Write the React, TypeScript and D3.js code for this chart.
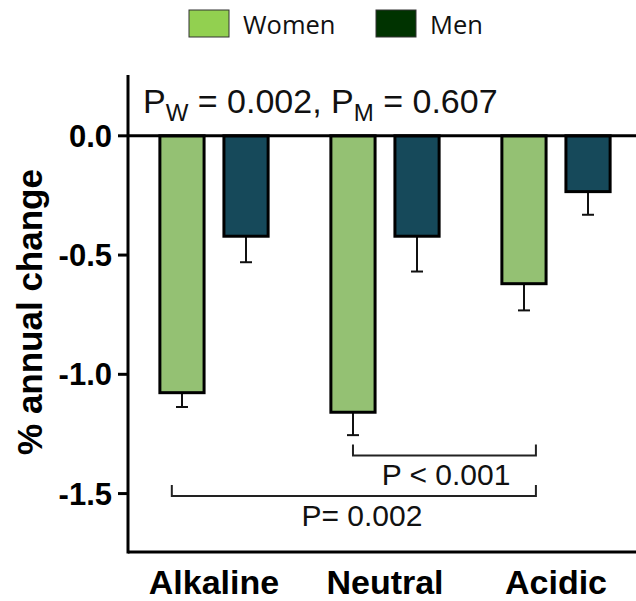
import { useMemo } from 'react'
import * as d3 from 'd3'

const categories = ['Alkaline', 'Neutral', 'Acidic']
const groups = ['Women', 'Men']
const womenMeans = [-1.077, -1.159, -0.62]
const womenErrors = [0.06, 0.096, 0.112]
const menMeans = [-0.421, -0.421, -0.234]
const menErrors = [0.109, 0.148, 0.097]
const yTicks = [0, -0.5, -1.0, -1.5]
const brackets = [
  { from: 'Neutral', to: 'Acidic', level: -1.34, label: 'P < 0.001' },
  { from: 'Alkaline', to: 'Acidic', level: -1.51, label: 'P= 0.002' },
]

const colors: Record<string, string> = { Women: '#94c173', Men: '#16495a' }
const legendColors: Record<string, string> = { Women: '#92d050', Men: '#003300' }
// where a bracket leg meets each women bar, as a share of the bar width
const legShare: Record<string, number> = { Alkaline: 0.27, Neutral: 0.5, Acidic: 0.77 }

const W = 636
const H = 601
const axisX = 128
const arial = 'Arial, "Liberation Sans", Helvetica, sans-serif'

export default function App() {
  const x0 = useMemo(
    () => d3.scaleBand<string>().domain(categories).range([128.5, 641.5]).padding(0),
    [],
  )
  const x1 = useMemo(
    () =>
      d3
        .scaleBand<string>()
        .domain(groups)
        .range([0, x0.bandwidth()])
        .paddingInner(0.31)
        .paddingOuter(0.49),
    [x0],
  )
  const y = useMemo(() => d3.scaleLinear().domain([0.255, -1.745]).range([75, 552]), [])

  const series = groups.map((g) => ({
    key: g,
    means: g === 'Women' ? womenMeans : menMeans,
    errors: g === 'Women' ? womenErrors : menErrors,
  }))

  const bw = x1.bandwidth()

  return (
    <svg
      width={W}
      height={H}
      style={{ position: 'fixed', left: 0, top: 0, background: '#fff' }}
    >
      {/* legend */}
      {groups.map((g, i) => {
        const lx = i === 0 ? 189 : 376
        return (
          <g key={g}>
            <rect
              x={lx}
              y={10}
              width={40}
              height={27}
              fill={legendColors[g]}
              stroke="#333"
              strokeWidth={1}
            />
            <text
              x={lx + 54}
              y={34}
              fontFamily='"Open Sans", "Noto Sans", sans-serif'
              fontSize={25.5}
              fill="#111"
            >
              {g}
            </text>
          </g>
        )
      })}

      {/* p-value header */}
      <text x={143} y={113} fontFamily={arial} fontSize={34} fill="#111">
        P<tspan fontSize={24} dy={8}>W</tspan>
        <tspan dy={-8}> = 0.002, P</tspan>
        <tspan fontSize={24} dy={8}>M</tspan>
        <tspan dy={-8}> = 0.607</tspan>
      </text>

      {/* bars */}
      {series.map((s) =>
        categories.map((c, i) => {
          const bx = (x0(c) ?? 0) + (x1(s.key) ?? 0)
          const top = y(0)
          const bottom = y(s.means[i])
          const cx = bx + bw / 2
          const errY = y(s.means[i] - s.errors[i])
          return (
            <g key={s.key + c}>
              <line x1={cx} x2={cx} y1={bottom} y2={errY} stroke="#111" strokeWidth={2} />
              <line x1={cx - 6} x2={cx + 6} y1={errY} y2={errY} stroke="#111" strokeWidth={2} />
              <rect
                x={bx}
                y={top}
                width={bw}
                height={bottom - top}
                fill={colors[s.key]}
                stroke="#000"
                strokeWidth={3}
              />
            </g>
          )
        }),
      )}

      {/* zero line and axes */}
      <line x1={axisX} x2={W} y1={y(0)} y2={y(0)} stroke="#000" strokeWidth={3} />
      <line x1={axisX} x2={W} y1={552} y2={552} stroke="#000" strokeWidth={3} />
      <line x1={axisX} x2={axisX} y1={75} y2={553.5} stroke="#000" strokeWidth={3} />
      {yTicks.map((t) => (
        <g key={t}>
          <line x1={axisX - 10} x2={axisX} y1={y(t)} y2={y(t)} stroke="#000" strokeWidth={3} />
          <text
            x={112}
            y={y(t)}
            dy="0.36em"
            textAnchor="end"
            fontFamily={arial}
            fontWeight="bold"
            fontSize={31}
            fill="#000"
          >
            {t.toFixed(1)}
          </text>
        </g>
      ))}
      <text
        transform={`translate(42,${312}) rotate(-90)`}
        textAnchor="middle"
        fontFamily={arial}
        fontWeight="bold"
        fontSize={35}
        fill="#000"
      >
        % annual change
      </text>

      {/* x labels */}
      {categories.map((c) => (
        <text
          key={c}
          x={(x0(c) ?? 0) + x0.bandwidth() / 2}
          y={594}
          textAnchor="middle"
          fontFamily={arial}
          fontWeight="bold"
          fontSize={34}
          fill="#000"
        >
          {c}
        </text>
      ))}

      {/* significance brackets */}
      {brackets.map((b) => {
        const xa = (x0(b.from) ?? 0) + (x1('Women') ?? 0) + bw * legShare[b.from]
        const xb = (x0(b.to) ?? 0) + (x1('Women') ?? 0) + bw * legShare[b.to]
        const ly = y(b.level)
        return (
          <g key={b.label}>
            <path
              d={`M${xa},${ly - 11}V${ly}H${xb}V${ly - 11}`}
              fill="none"
              stroke="#222"
              strokeWidth={2}
            />
            <text
              x={b.from === 'Neutral' ? 446 : (xa + xb) / 2 + 8}
              y={ly + 30}
              textAnchor="middle"
              fontFamily={arial}
              fontSize={30}
              fill="#111"
            >
              {b.label}
            </text>
          </g>
        )
      })}
    </svg>
  )
}
